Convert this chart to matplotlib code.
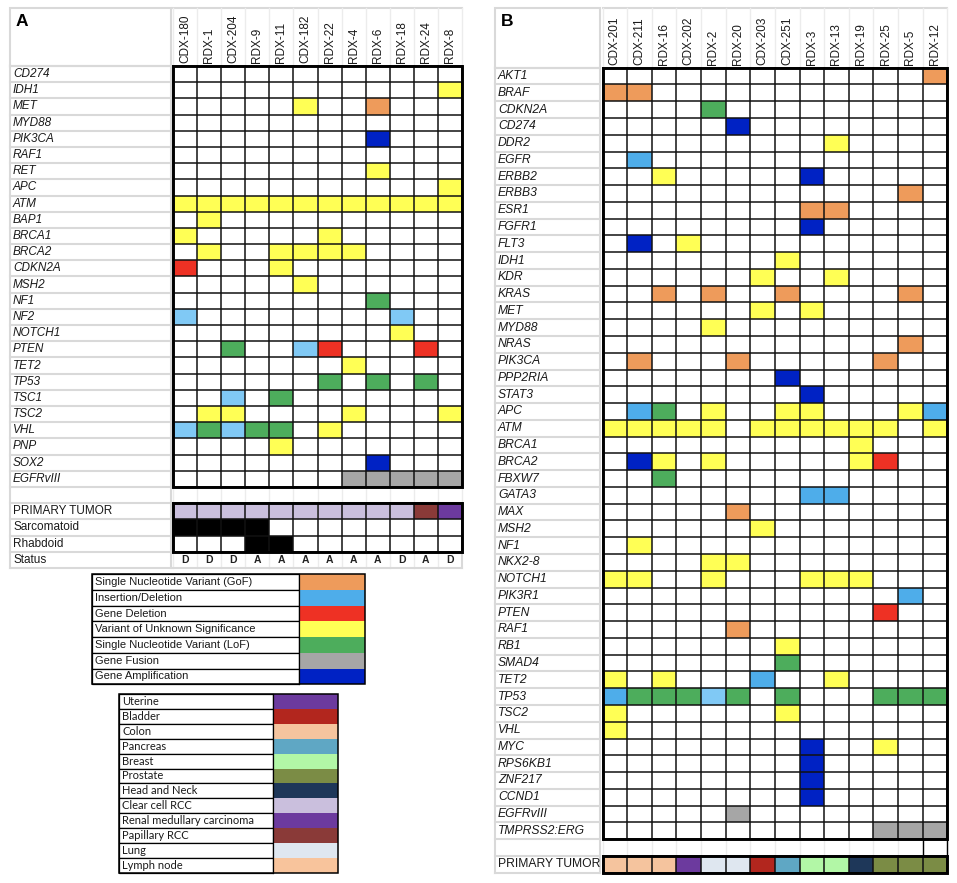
import matplotlib
matplotlib.use("Agg")
import matplotlib.pyplot as plt
from matplotlib.patches import Rectangle

# ---- data -------------------------------------------------------------------
# call codes: o=SNV GoF, b=indel, l=indel (lighter print), r=deletion, y=VUS,
#             g=SNV LoF, f=fusion, a=amplification, .=none
SAMPLES_A = ["CDX-180", "RDX-1", "CDX-204", "RDX-9", "RDX-11", "CDX-182",
             "RDX-22", "RDX-4", "RDX-6", "RDX-18", "RDX-24", "RDX-8"]
GENES_A = ["CD274", "IDH1", "MET", "MYD88", "PIK3CA", "RAF1", "RET", "APC", "ATM",
           "BAP1", "BRCA1", "BRCA2", "CDKN2A", "MSH2", "NF1", "NF2", "NOTCH1", "PTEN",
           "TET2", "TP53", "TSC1", "TSC2", "VHL", "PNP", "SOX2", "EGFRvIII"]
CALLS_A = ["............",
           "...........y",
           ".....y..o...",
           "............",
           "........a...",
           "............",
           "........y...",
           "...........y",
           "yyyyyyyyyyyy",
           ".y..........",
           "y.....y.....",
           ".y..yyyy....",
           "r...y.......",
           ".....y......",
           "........g...",
           "l........l..",
           ".........y..",
           "..g..lr...r.",
           ".......y....",
           "......g.g.g.",
           "..l.g.......",
           ".yy....y...y",
           "lglgg.y.....",
           "....y.......",
           "........a...",
           ".......fffff"]
TUMOR_A = ["Clear cell RCC"] * 10 + ["Papillary RCC", "Renal medullary carcinoma"]
SARCOMATOID_A = [1, 1, 1, 1, 0, 0, 0, 0, 0, 0, 0, 0]
RHABDOID_A = [0, 0, 0, 1, 1, 0, 0, 0, 0, 0, 0, 0]
STATUS_A = ["D", "D", "D", "A", "A", "A", "A", "A", "A", "D", "A", "D"]

SAMPLES_B = ["CDX-201", "CDX-211", "RDX-16", "CDX-202", "RDX-2", "RDX-20", "CDX-203",
             "CDX-251", "RDX-3", "RDX-13", "RDX-19", "RDX-25", "RDX-5", "RDX-12"]
GENES_B = ["AKT1", "BRAF", "CDKN2A", "CD274", "DDR2", "EGFR", "ERBB2", "ERBB3", "ESR1",
           "FGFR1", "FLT3", "IDH1", "KDR", "KRAS", "MET", "MYD88", "NRAS", "PIK3CA",
           "PPP2RIA", "STAT3", "APC", "ATM", "BRCA1", "BRCA2", "FBXW7", "GATA3", "MAX",
           "MSH2", "NF1", "NKX2-8", "NOTCH1", "PIK3R1", "PTEN", "RAF1", "RB1", "SMAD4",
           "TET2", "TP53", "TSC2", "VHL", "MYC", "RPS6KB1", "ZNF217", "CCND1",
           "EGFRvIII", "TMPRSS2:ERG"]
CALLS_B = [".............o",
           "oo............",
           "....g.........",
           ".....a........",
           ".........y....",
           ".b............",
           "..y.....a.....",
           "............o.",
           "........oo....",
           "........a.....",
           ".a.y..........",
           ".......y......",
           "......y..y....",
           "..o.o..o....o.",
           "......y.y.....",
           "....y.........",
           "............o.",
           ".o...o.....o..",
           ".......a......",
           "........a.....",
           ".bg.y..yy...yb",
           "yyyyy.yyyyyy.y",
           "..........y...",
           ".ay.y.....yr..",
           "..g...........",
           "........bb....",
           ".....o........",
           "......y.......",
           ".y............",
           "....yy........",
           "yy..y...yyy...",
           "............b.",
           "...........r..",
           ".....o........",
           ".......y......",
           ".......g......",
           "y.y...b..y....",
           "bggglg.g...ggg",
           "y......y......",
           "y.............",
           "........a..y..",
           "........a.....",
           "........a.....",
           "........a.....",
           ".....f........",
           "...........fff"]
TUMOR_B = ["Colon", "Colon", "Colon", "Uterine", "Lung", "Lung", "Bladder", "Pancreas",
           "Breast", "Breast", "Head and Neck", "Prostate", "Prostate", "Prostate"]

VARIANT_LABELS = ["Single Nucleotide Variant (GoF)", "Insertion/Deletion", "Gene Deletion",
                  "Variant of Unknown Significance", "Single Nucleotide Variant (LoF)",
                  "Gene Fusion", "Gene Amplification"]
VARIANT_CODES = ["o", "b", "r", "y", "g", "f", "a"]
CALL_COLORS = {"o": "#EE9B5B", "b": "#4EADEA", "l": "#80C9F5", "r": "#EE3124",
               "y": "#FFFF55", "g": "#4DAD5C", "f": "#A6A6A6", "a": "#0022C4"}
TUMOR_LABELS = ["Uterine", "Bladder", "Colon", "Pancreas", "Breast", "Prostate",
                "Head and Neck", "Clear cell RCC", "Renal medullary carcinoma",
                "Papillary RCC", "Lung", "Lymph node"]
TUMOR_COLORS = ["#6C3A9E", "#B2261E", "#F5C49E", "#5FA7C4", "#B2F7A6", "#7B8C45",
                "#1E3759", "#CABFDD", "#6C3A9E", "#8A3A38", "#DFE7F0", "#F8C49C"]
TCOL = dict(zip(TUMOR_LABELS, TUMOR_COLORS))

LG = "#d9d9d9"
LG2 = "#ececec"
FONT = "Liberation Sans"
TXT = "#1a1a1a"

fig = plt.figure(figsize=(9.57, 8.83), dpi=100)
ax = fig.add_axes([0, 0, 1, 1])
ax.set_xlim(0, 957); ax.set_ylim(883, 0); ax.axis("off")


def light_rows(x0, x1, y0, rh, n):
    for i in range(n + 1):
        ax.plot([x0, x1], [y0 + i * rh, y0 + i * rh], color=LG, lw=1.5, zorder=1)
    ax.plot([x0, x0], [y0, y0 + n * rh], color=LG, lw=1.5, zorder=1)
    ax.plot([x1, x1], [y0, y0 + n * rh], color=LG, lw=1.5, zorder=1)


def block(xg, cw, y0, rh, fills, ncol):
    """fills: list of rows, each a list of colours (None = white)."""
    n = len(fills)
    for i, row in enumerate(fills):
        for j, c in enumerate(row):
            if c is not None:
                ax.add_patch(Rectangle((xg + j * cw, y0 + i * rh), cw, rh, facecolor=c,
                                       edgecolor="none", zorder=2))
    for i in range(n + 1):
        ax.plot([xg, xg + ncol * cw], [y0 + i * rh] * 2, color="#111111", lw=1.1, zorder=3)
    for j in range(ncol + 1):
        ax.plot([xg + j * cw] * 2, [y0, y0 + n * rh], color="#111111", lw=1.1, zorder=3)
    ax.add_patch(Rectangle((xg, y0), ncol * cw, n * rh, fill=False, edgecolor="black",
                           lw=2.1, zorder=4))


def panel(letter, xo, xl, xg, xr, yt, yg, rh, samples, genes, calls, extra, fs):
    nc = len(samples); cw = (xr - xg) / nc
    nrows = len(genes) + len(extra)
    # header + label column light grid
    ax.add_patch(Rectangle((xo, yt), xl - xo, yg - yt, fill=False, edgecolor=LG, lw=1.5, zorder=1))
    ax.plot([xg, xr], [yt, yt], color=LG, lw=1.5, zorder=1)
    for j in range(nc + 1):
        ax.plot([xg + j * cw] * 2, [yt, yg], color=LG2, lw=1.0, zorder=1)
    ax.text(xo + 6, yt + 14, letter, fontsize=12.5, fontweight="bold", family=FONT, va="center")
    light_rows(xo, xl, yg, rh, nrows)
    for j, s in enumerate(samples):
        ax.text(xg + (j + 0.5) * cw, yg - 3, s, rotation=90, ha="center", va="bottom",
                fontsize=8.5, family=FONT, color=TXT, zorder=5)
    for i, g in enumerate(genes):
        ax.text(xo + 3, yg + (i + 0.5) * rh, g, ha="left", va="center", fontsize=fs,
                style="italic", family=FONT, color=TXT, zorder=5)
    block(xg, cw, yg, rh, [[CALL_COLORS.get(c) for c in row] for row in calls], nc)
    return cw, yg + len(genes) * rh


# ---- panel A ----
cwA, yA = panel("A", 10, 171, 173, 462, 8, 66, 16.19, SAMPLES_A, GENES_A, CALLS_A,
                ["", "PRIMARY TUMOR", "Sarcomatoid", "Rhabdoid", "Status"], 8.5)
rh = 16.19
# blank row (light)
for j in range(len(SAMPLES_A) + 1):
    ax.plot([173 + j * cwA] * 2, [yA, yA + rh], color=LG2, lw=1.0, zorder=1)
ax.plot([173, 462], [yA + rh] * 2, color=LG, lw=1.5, zorder=1)
for k, lab in enumerate(["PRIMARY TUMOR", "Sarcomatoid", "Rhabdoid", "Status"]):
    ax.text(13, yA + (k + 1.5) * rh, lab, ha="left", va="center", fontsize=8.5,
            family=FONT, color=TXT, zorder=5)
block(173, cwA, yA + rh, rh,
      [[TCOL[t] for t in TUMOR_A],
       ["black" if v else None for v in SARCOMATOID_A],
       ["black" if v else None for v in RHABDOID_A]], len(SAMPLES_A))
ys = yA + 4 * rh
for j, s in enumerate(STATUS_A):
    ax.text(173 + (j + 0.5) * cwA, ys + rh / 2, s, ha="center", va="center", fontsize=7.5,
            fontweight="bold", family=FONT, color="#222222")
    ax.plot([173 + j * cwA] * 2, [ys, ys + rh], color=LG2, lw=1.0, zorder=1)
ax.plot([462, 462], [ys, ys + rh], color=LG, lw=1.5)
ax.plot([173, 462], [ys + rh] * 2, color=LG, lw=1.5)

# ---- panel B ----
cwB, yB = panel("B", 495, 600, 602.5, 947.3, 8, 67.7, 16.77, SAMPLES_B, GENES_B, CALLS_B,
                ["", "PRIMARY TUMOR"], 8.7)
rhB = 16.77
for j in range(len(SAMPLES_B) + 1):
    ax.plot([602.5 + j * cwB] * 2, [yB, yB + rhB], color=LG2, lw=1.0, zorder=1)
ax.plot([602.5 + 13 * cwB] * 2, [yB, yB + rhB], color="black", lw=1.0, zorder=3)
ax.plot([947.3] * 2, [yB, yB + rhB], color="black", lw=1.0, zorder=3)
ax.text(498, yB + 1.5 * rhB, "PRIMARY TUMOR", ha="left", va="center", fontsize=8.7,
        family=FONT, color=TXT, zorder=5)
block(602.5, cwB, yB + rhB, rhB, [[TCOL[t] for t in TUMOR_B]], len(SAMPLES_B))

# ---- legends ----
def legend(x0, x1, x2, y0, h, labels, colors, fs, family):
    for i, (lab, c) in enumerate(zip(labels, colors)):
        y = y0 + i * h
        ax.add_patch(Rectangle((x0, y), x1 - x0, h, facecolor="white", edgecolor="black", lw=0.9))
        ax.add_patch(Rectangle((x1, y), x2 - x1, h, facecolor=c, edgecolor="none"))
        ax.text(x0 + 3, y + h / 2, lab, ha="left", va="center", fontsize=fs,
                family=family, color=TXT)
    ax.add_patch(Rectangle((x0, y0), x2 - x0, h * len(labels), fill=False, edgecolor="black", lw=1.1))
    ax.plot([x1, x1], [y0, y0 + h * len(labels)], color="black", lw=0.9)


legend(91.7, 299, 365, 574.3, 15.7, VARIANT_LABELS,
       [CALL_COLORS[c] for c in VARIANT_CODES], 8.0, FONT)
legend(119.3, 273, 338, 694, 14.9, TUMOR_LABELS, TUMOR_COLORS, 8.0, "Lato")

fig.savefig("out.png", dpi=100)
